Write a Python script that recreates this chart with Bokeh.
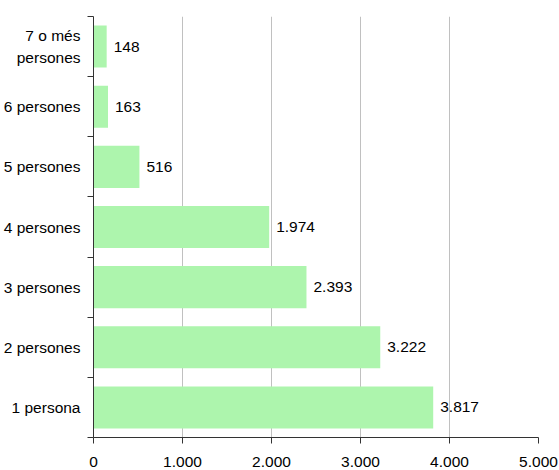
from bokeh.plotting import figure
from bokeh.models import FixedTicker, LabelSet, ColumnDataSource, Range1d
from bokeh.core.properties import value
from bokeh.embed import file_html
from bokeh.resources import INLINE

categories = ["1 persona", "2 persones", "3 persones", "4 persones",
              "5 persones", "6 persones", "7 o més\npersones"]
values = [3817, 3222, 2393, 1974, 516, 163, 148]
value_labels = ["3.817", "3.222", "2.393", "1.974", "516", "163", "148"]
x_ticks = [0, 1000, 2000, 3000, 4000, 5000]
x_tick_labels = ["0", "1.000", "2.000", "3.000", "4.000", "5.000"]

FONT = "Liberation Sans"
FS = "15.5px"
BAR = "#adf5ad"
AXIS = "#333333"

pos = list(range(1, len(categories) + 1))
src = ColumnDataSource(dict(pos=pos, val=values, vlab=value_labels, cat=categories))

p = figure(width=559, height=474, output_backend="svg", toolbar_location=None,
           x_range=Range1d(0, 5000), y_range=Range1d(0.5, len(categories) + 0.5),
           min_border_left=92, min_border_right=21, min_border_top=16, min_border_bottom=37)
p.outline_line_color = None
p.background_fill_color = "white"

p.hbar(y="pos", right="val", left=0, height=0.7, source=src,
       fill_color=BAR, line_color=None)

# x axis
p.xaxis.ticker = FixedTicker(ticks=x_ticks, minor_ticks=[])
p.xaxis.major_label_overrides = {t: l for t, l in zip(x_ticks, x_tick_labels)}
p.xaxis.major_label_text_font = FONT
p.xaxis.major_label_text_font_size = FS
p.xaxis.major_label_text_color = "black"
p.xaxis.major_label_standoff = 13
p.xaxis.major_tick_out = 6
p.xaxis.major_tick_in = 0
p.xaxis.axis_line_color = AXIS
p.xaxis.major_tick_line_color = AXIS

# y axis: labels at category centres, ticks at category boundaries
p.yaxis.ticker = FixedTicker(ticks=pos, minor_ticks=[i + 0.5 for i in range(len(categories) + 1)])
p.yaxis.major_label_overrides = {t: c for t, c in zip(pos, categories)}
p.yaxis.major_label_text_font = FONT
p.yaxis.major_label_text_font_size = FS
p.yaxis.major_label_text_color = "black"
p.yaxis.major_label_text_line_height = 1.28
p.yaxis.major_label_standoff = 7
p.yaxis.major_tick_out = 0
p.yaxis.major_tick_in = 0
p.yaxis.minor_tick_out = 6
p.yaxis.minor_tick_in = 0
p.yaxis.axis_line_color = AXIS
p.yaxis.minor_tick_line_color = AXIS

p.ygrid.grid_line_color = None
p.xgrid.grid_line_color = "#c0c0c0"
p.xgrid.grid_line_width = 1

p.add_layout(LabelSet(x="val", y="pos", text="vlab", source=src, x_offset=7,
                      text_baseline="middle", text_align="left",
                      text_font=value(FONT), text_font_size=FS, text_color="black"))

open("out.html", "w").write(file_html(p, INLINE))
